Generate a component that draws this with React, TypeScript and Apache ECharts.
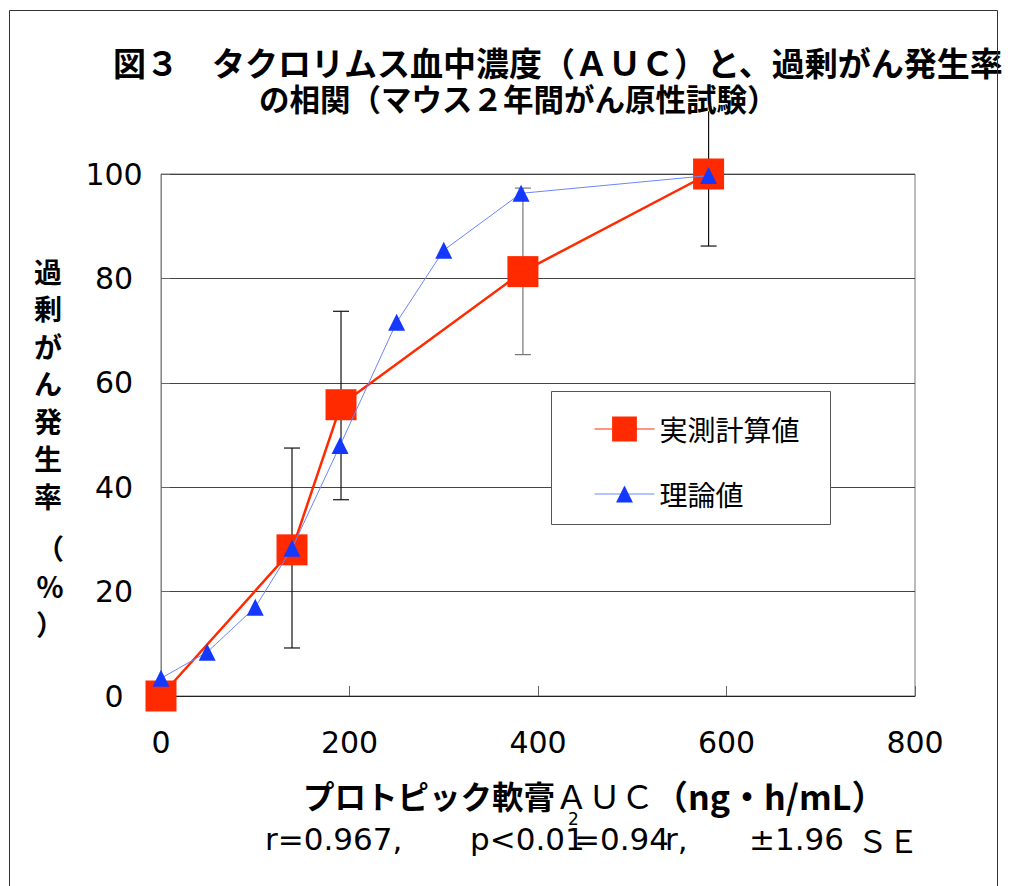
import React, { useEffect, useRef } from "react";
import * as echarts from "echarts";

// ---- data ----
const measuredX = [0, 139, 191, 384, 581];
const measuredY = [0, 28, 55.8, 81.3, 100];
const errLow = [null, 9.2, 37.6, 65.4, 86.2];
const errHigh = [null, 47.5, 73.7, 97.3, 112];
const theoryX = [0, 49, 100, 139, 190, 250, 300, 382, 581];
const theoryY = [3.4, 8.4, 17, 28.3, 48, 71.6, 85.4, 96.3, 99.7];
const xTickLabels = [0, 200, 400, 600, 800];
const yTickLabels = [0, 20, 40, 60, 80, 100];
const seriesNames = ["実測計算値", "理論値"];

const errorBarColors = ["#111", "#111", "#111", "#777", "#111"];

const CJK = "'Noto Sans CJK JP', sans-serif";
const NUM = "'DejaVu Sans', sans-serif";

export default function App() {
  const ref = useRef<HTMLDivElement>(null);
  useEffect(() => {
    document.body.style.margin = "0";
    const chart = echarts.init(ref.current!, null, { renderer: "svg" });
    const measured = measuredX.map((x, i) => [x, measuredY[i]]);
    const theory = theoryX.map((x, i) => [x, theoryY[i]]);
    const errData = measuredX
      .map((x, i) => [x, errLow[i], errHigh[i], i])
      .filter((d) => d[1] !== null);

    const txt = (x: number, y: number, text: string, font: string, extra: any = {}) => ({
      type: "text",
      z: 8,
      x,
      y,
      style: { text, font, fill: "#000", verticalAlign: "middle", ...extra },
    });

    chart.setOption({
      animation: false,
      backgroundColor: "#fff",
      grid: {
        left: 161,
        right: 95,
        top: 174,
        bottom: 190,
        show: true,
        borderColor: "#777",
        borderWidth: 1,
      },
      xAxis: {
        type: "value",
        min: xTickLabels[0],
        max: xTickLabels[xTickLabels.length - 1],
        interval: 200,
        axisLine: { show: true, onZero: false, lineStyle: { color: "#222", width: 1 } },
        axisTick: { show: true, inside: true, length: 10, lineStyle: { color: "#666" } },
        splitLine: { show: false },
        axisLabel: { fontSize: 30, fontFamily: NUM, color: "#000", margin: 31 },
      },
      yAxis: {
        type: "value",
        min: yTickLabels[0],
        max: yTickLabels[yTickLabels.length - 1],
        interval: 20,
        axisLine: { show: true, lineStyle: { color: "#888" } },
        axisTick: { show: true, inside: true, length: 9, lineStyle: { color: "#666" } },
        splitLine: { show: true, lineStyle: { color: "#444", width: 1 } },
        axisLabel: { fontSize: 30, fontFamily: NUM, color: "#000", margin: 47, align: "center" },
      },
      legend: [
        {
          data: [seriesNames[0]],
          left: 589,
          top: 410,
          itemWidth: 60,
          itemHeight: 31,
          itemGap: 0,
          lineStyle: { width: 1 },
          textStyle: { fontSize: 28, fontFamily: CJK, color: "#000" },
          z: 5,
        },
        {
          data: [seriesNames[1]],
          left: 589,
          top: 475,
          itemWidth: 60,
          itemHeight: 21,
          itemGap: 0,
          lineStyle: { width: 1 },
          textStyle: { fontSize: 28, fontFamily: CJK, color: "#000" },
          z: 5,
        },
      ],
      graphic: [
        {
          type: "rect",
          z: 3,
          shape: { x: 551.5, y: 391.5, width: 279, height: 133 },
          style: { fill: "#fff", stroke: "#555", lineWidth: 1 },
        },
        {
          type: "rect",
          z: 10,
          silent: true,
          shape: { x: 9.5, y: 10.5, width: 988, height: 900 },
          style: { fill: "none", stroke: "#333", lineWidth: 1 },
        },
        txt(113, 62, "図３　タクロリムス血中濃度（ＡＵＣ）と、過剰がん発生率", `bold 33px ${CJK}`),
        txt(259, 98, "の相関（マウス２年間がん原性試験）", `bold 30.5px ${CJK}`),
        txt(48, 252, "過\n剰\nが\nん\n発\n生\n率", `bold 28px ${CJK}`, {
          lineHeight: 37.5,
          align: "center",
          verticalAlign: "top",
        }),
        txt(50, 529, "（\n％\n）", `bold 28px ${CJK}`, {
          lineHeight: 38,
          align: "center",
          verticalAlign: "top",
        }),
        {
          type: "text",
          z: 8,
          x: 303,
          y: 795,
          style: {
            text: "{b|プロトピック軟膏}{n|ＡＵＣ}{c|（ng・h/mL）}",
            verticalAlign: "middle",
            rich: {
              b: { fontSize: 31.5, fontWeight: "bold", fontFamily: CJK, fill: "#000" },
              n: { fontSize: 33, fontWeight: "normal", fontFamily: CJK, fill: "#000" },
              c: { fontSize: 34, fontWeight: "bold", fontFamily: CJK, fill: "#000" },
            },
          },
        },
        txt(265, 839, "r=0.967,", `31px ${NUM}`),
        txt(470, 839, "p<0.01", `31px ${NUM}`),
        txt(568, 819, "2", `17px ${NUM}`),
        txt(574, 839, "=0.94", `31px ${NUM}`),
        txt(665, 839, "r,", `31px ${NUM}`),
        txt(749, 839, "±1.96", `31px ${NUM}`),
        txt(857, 839, "ＳＥ", `31px ${CJK}`),
      ],
      series: [
        {
          type: "custom",
          name: "err",
          clip: false,
          z: 1,
          data: errData,
          renderItem: (params: any, api: any) => {
            const x = api.value(0);
            const lo = api.coord([x, api.value(1)]);
            const hi = api.coord([x, api.value(2)]);
            const idx = api.value(3);
            const color = errorBarColors[idx] || "#111";
            const w = 8;
            const children: any[] = [
              { type: "line", shape: { x1: lo[0], y1: lo[1], x2: hi[0], y2: hi[1] }, style: { stroke: color, lineWidth: 1.2 } },
              { type: "line", shape: { x1: lo[0] - w, y1: lo[1], x2: lo[0] + w, y2: lo[1] }, style: { stroke: color, lineWidth: 1.2 } },
            ];
            if (api.value(2) <= 100) {
              children.push({ type: "line", shape: { x1: hi[0] - w, y1: hi[1], x2: hi[0] + w, y2: hi[1] }, style: { stroke: color, lineWidth: 1.2 } });
            }
            return { type: "group", children };
          },
        },
        {
          type: "line",
          name: seriesNames[0],
          data: measured,
          clip: false,
          z: 2,
          symbol: "rect",
          symbolSize: 31,
          lineStyle: { color: "#ff2a00", width: 2.5 },
          itemStyle: { color: "#ff2a00" },
          color: "#ff2a00",
        },
        {
          type: "line",
          name: seriesNames[1],
          data: theory,
          clip: false,
          z: 3,
          symbol: "triangle",
          symbolSize: 17,
          lineStyle: { color: "#6a86ff", width: 1 },
          itemStyle: { color: "#1538ff" },
          color: "#1538ff",
        },
      ],
    });
    return () => chart.dispose();
  }, []);
  return <div ref={ref} style={{ width: 1010, height: 886, position: "absolute", left: 0, top: 0 }} />;
}
